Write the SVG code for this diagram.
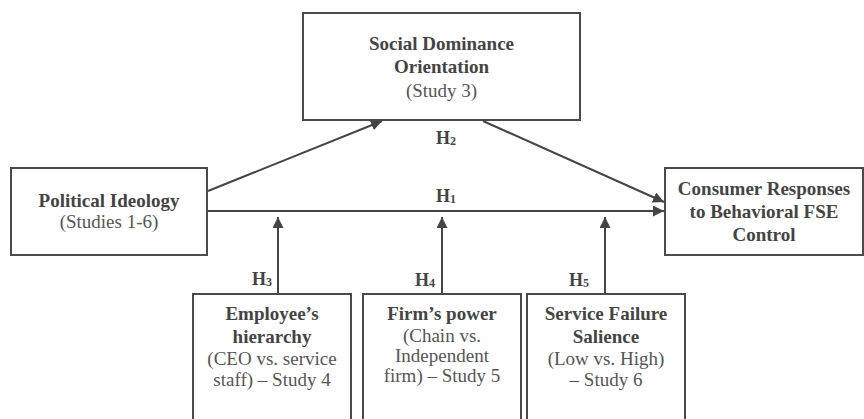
<svg xmlns="http://www.w3.org/2000/svg" width="864" height="419" viewBox="0 0 864 419">
  <defs>
    <marker id="arrow" markerUnits="userSpaceOnUse" markerWidth="13" markerHeight="11" refX="11" refY="5.5" orient="auto">
      <path d="M0,0 L11,5.5 L0,11 Z" fill="#444"/>
    </marker>
    <style>
      .box { fill: #fff; stroke: #4a4a4a; stroke-width: 2; }
      .link { fill: none; stroke: #444; stroke-width: 2; }
      .b { font-weight: bold; fill: #444; }
      .n { fill: #555; }
      .h { font-weight: bold; fill: #444; font-size: 18px; }
      .sub { font-size: 12px; }
    </style>
  </defs>
  <rect width="864" height="419" fill="#fff"/>

  <g font-family="Liberation Serif, DejaVu Serif, serif" font-size="19" text-anchor="middle">
  <!-- paths between constructs, with hypothesis labels -->
  <g id="connectors">
    <line class="link" x1="208" y1="191" x2="382" y2="121" marker-end="url(#arrow)"/>
    <line class="link" x1="483" y1="121" x2="664" y2="202" marker-end="url(#arrow)"/>
    <line class="link" x1="208" y1="211" x2="664" y2="211" marker-end="url(#arrow)"/>
    <line class="link" x1="278" y1="293" x2="278" y2="217" marker-end="url(#arrow)"/>
    <line class="link" x1="442" y1="293" x2="442" y2="217" marker-end="url(#arrow)"/>
    <line class="link" x1="605" y1="293" x2="605" y2="217" marker-end="url(#arrow)"/>
    <text class="h" x="446" y="144">H<tspan class="sub" dy="1">2</tspan></text>
    <text class="h" x="446" y="202">H<tspan class="sub" dy="1">1</tspan></text>
    <text class="h" x="262" y="285">H<tspan class="sub" dy="1">3</tspan></text>
    <text class="h" x="425" y="286">H<tspan class="sub" dy="1">4</tspan></text>
    <text class="h" x="579" y="286">H<tspan class="sub" dy="1">5</tspan></text>
  </g>

  <g id="sdo">
    <rect class="box" x="303" y="13" width="277" height="107"/>
    <text class="b" x="441.5" y="50">Social Dominance</text>
    <text class="b" x="441.5" y="73">Orientation</text>
    <text class="n" x="441.5" y="97">(Study 3)</text>
  </g>

  <g id="political-ideology">
    <rect class="box" x="11" y="168" width="196" height="87"/>
    <text class="b" x="109" y="207">Political Ideology</text>
    <text class="n" x="109" y="228">(Studies 1-6)</text>
  </g>

  <g id="consumer-responses">
    <rect class="box" x="665" y="168" width="198" height="87"/>
    <text class="b" x="764" y="195">Consumer Responses</text>
    <text class="b" x="764" y="218">to Behavioral FSE</text>
    <text class="b" x="764" y="241">Control</text>
  </g>

  <g id="employee-hierarchy">
    <rect class="box" x="193" y="294" width="158" height="140"/>
    <text class="b" x="272" y="320">Employee’s</text>
    <text class="b" x="272" y="343">hierarchy</text>
    <text class="n" x="272" y="365">(CEO vs. service</text>
    <text class="n" x="272" y="386">staff) – Study 4</text>
  </g>

  <g id="firm-power">
    <rect class="box" x="363" y="294" width="158" height="140"/>
    <text class="b" x="442" y="320">Firm’s power</text>
    <text class="n" x="442" y="342">(Chain vs.</text>
    <text class="n" x="442" y="362">Independent</text>
    <text class="n" x="442" y="382">firm) – Study 5</text>
  </g>

  <g id="failure-salience">
    <rect class="box" x="527" y="294" width="158" height="140"/>
    <text class="b" x="606" y="320">Service Failure</text>
    <text class="b" x="606" y="343">Salience</text>
    <text class="n" x="606" y="365">(Low vs. High)</text>
    <text class="n" x="606" y="386">– Study 6</text>
  </g>
  </g>
</svg>
